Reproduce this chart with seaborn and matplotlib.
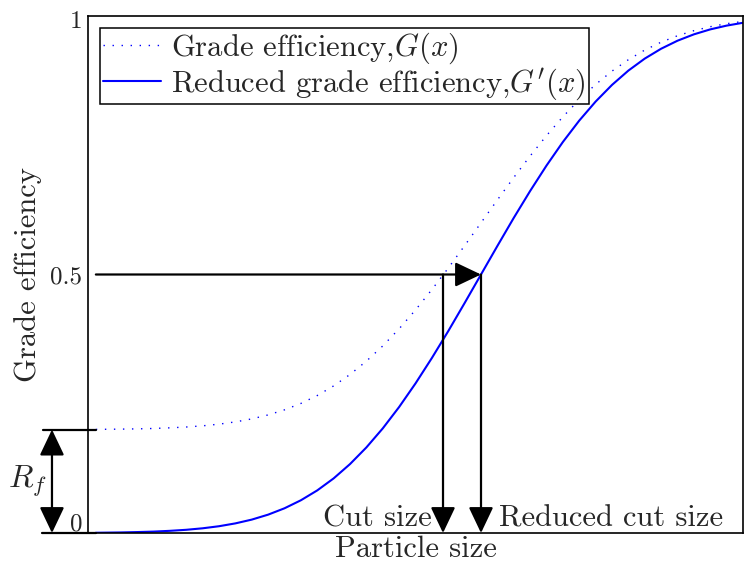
import numpy as np
import pandas as pd
import matplotlib
matplotlib.use("Agg")
import matplotlib.pyplot as plt
import matplotlib.transforms as mtransforms
import seaborn as sns

# Grade efficiency curves (particle size in arbitrary units)
particle_size = [1.2, 2.5, 5, 7.5, 10, 12.5, 15, 17.5, 20, 22.5, 25, 27.5,
                 30, 32.5, 35, 37.5, 40, 42.5, 45, 47.5, 50, 52.5, 55, 57.5,
                 60, 62.5, 65, 67.5, 70, 72.5, 75, 77.5, 80, 82.5, 85, 87.5,
                 90, 92.5, 95, 97.5, 100]
grade_eff = [0.2004, 0.2006, 0.2009, 0.2014, 0.2022, 0.2034, 0.2050, 0.2073,
             0.2105, 0.2149, 0.2207, 0.2284, 0.2382, 0.2506, 0.2659, 0.2845,
             0.3066, 0.3324, 0.3618, 0.3950, 0.4314, 0.4708, 0.5124, 0.5558,
             0.6000, 0.6442, 0.6876, 0.7292, 0.7686, 0.8050, 0.8382, 0.8676,
             0.8934, 0.9155, 0.9341, 0.9494, 0.9618, 0.9716, 0.9793, 0.9851,
             0.9895]
reduced_eff = [0.0005, 0.0007, 0.0011, 0.0018, 0.0027, 0.0042, 0.0062, 0.0091,
               0.0131, 0.0186, 0.0259, 0.0355, 0.0478, 0.0633, 0.0824, 0.1056,
               0.1333, 0.1655, 0.2023, 0.2437, 0.2893, 0.3385, 0.3905, 0.4448,
               0.5000, 0.5552, 0.6095, 0.6615, 0.7107, 0.7563, 0.7977, 0.8345,
               0.8667, 0.8944, 0.9176, 0.9367, 0.9522, 0.9645, 0.9741, 0.9814,
               0.9869]
series_names = ["Grade efficiency,$G(x)$", "Reduced grade efficiency,$G'(x)$"]

cut_size = 54.2
reduced_cut_size = 60.0
r_f = 0.2
y_ticks = [0, 0.5, 1]
y_tick_labels = ["0", "0.5", "1"]

sns.set_style("white")
plt.rcParams["font.family"] = ["serif"]
plt.rcParams["font.serif"] = ["cmr10", "DejaVu Serif"]
plt.rcParams["mathtext.fontset"] = "cm"
plt.rcParams["axes.unicode_minus"] = False
plt.rcParams["axes.formatter.use_mathtext"] = True

FS = 22
TICK_FS = 18

df = pd.DataFrame({
    "size": particle_size * 2,
    "eff": grade_eff + reduced_eff,
    "curve": [series_names[0]] * len(particle_size) + [series_names[1]] * len(particle_size),
})

fig = plt.figure(figsize=(7.51, 5.71), dpi=100)
ax = fig.add_axes([88 / 751, 38 / 571, 655 / 751, 517 / 571])

sns.lineplot(data=df, x="size", y="eff", hue="curve", style="curve",
             palette=["#0000ff", "#0000ff"],
             dashes={series_names[0]: (1, 5.5), series_names[1]: ""},
             ax=ax, legend=False)
lines = ax.get_lines()
lines[0].set_linewidth(1.0)
lines[1].set_linewidth(1.5)

ax.set_xlim(0, 100)
ax.set_ylim(0, 1)
ax.set_xticks([])
ax.set_yticks(y_ticks)
ax.set_yticklabels(y_tick_labels, fontsize=TICK_FS)
ax.tick_params(axis="y", length=0, pad=4)
# lift the "0" label above the baseline guide
lbl0 = ax.get_yticklabels()[0]
lbl0.set_transform(lbl0.get_transform() + mtransforms.ScaledTranslation(0, 0.11, fig.dpi_scale_trans))
lbl1 = ax.get_yticklabels()[2]
lbl1.set_transform(lbl1.get_transform() + mtransforms.ScaledTranslation(0, -0.03, fig.dpi_scale_trans))

for s in ax.spines.values():
    s.set_color("black")
    s.set_linewidth(1.2)

ax.set_xlabel("Particle size", fontsize=FS, labelpad=2)
ax.set_ylabel("Grade efficiency", fontsize=FS)
ax.yaxis.set_label_coords(-0.070, 0.5)

arrow = dict(arrowstyle="-|>,head_length=0.8,head_width=0.38", mutation_scale=20,
             color="black", lw=1.6, shrinkA=0, shrinkB=0)

# horizontal guide at 50 % efficiency, to the reduced cut size
ax.annotate("", xy=(reduced_cut_size, 0.5), xytext=(particle_size[0], 0.5), arrowprops=arrow)
# drop lines to the particle-size axis
ax.annotate("", xy=(cut_size, 0), xytext=(cut_size, 0.5), arrowprops=arrow, annotation_clip=False)
ax.annotate("", xy=(reduced_cut_size, 0), xytext=(reduced_cut_size, 0.5), arrowprops=arrow, annotation_clip=False)

# R_f bracket left of the axis
ax.plot([-6.9, particle_size[0]], [r_f, r_f], color="black", lw=1.6, clip_on=False)
ax.plot([-7.0, particle_size[0]], [0, 0], color="black", lw=1.6, clip_on=False)
ax.annotate("", xy=(-5.5, 0), xytext=(-5.5, r_f),
            arrowprops=dict(arrowstyle="<|-|>,head_length=0.8,head_width=0.38", mutation_scale=20,
                            color="black", lw=1.6, shrinkA=0, shrinkB=0),
            annotation_clip=False)
ax.text(-9.3, 0.1, "$R_f$", fontsize=FS + 1, ha="center", va="center", clip_on=False)

ax.text(52.5, 0.013, "Cut size", fontsize=FS, ha="right", va="baseline")
ax.text(62.7, 0.013, "Reduced cut size", fontsize=FS, ha="left", va="baseline")

handles = ax.get_lines()[:2]
leg = ax.legend(handles, series_names, loc="upper left", fontsize=FS,
                frameon=True, fancybox=False, framealpha=1, edgecolor="black",
                borderaxespad=0.4, handlelength=1.9, handletextpad=0.35,
                labelspacing=0.0, borderpad=0.08)
leg.get_frame().set_linewidth(1.1)

fig.savefig("out.png", dpi=100)
